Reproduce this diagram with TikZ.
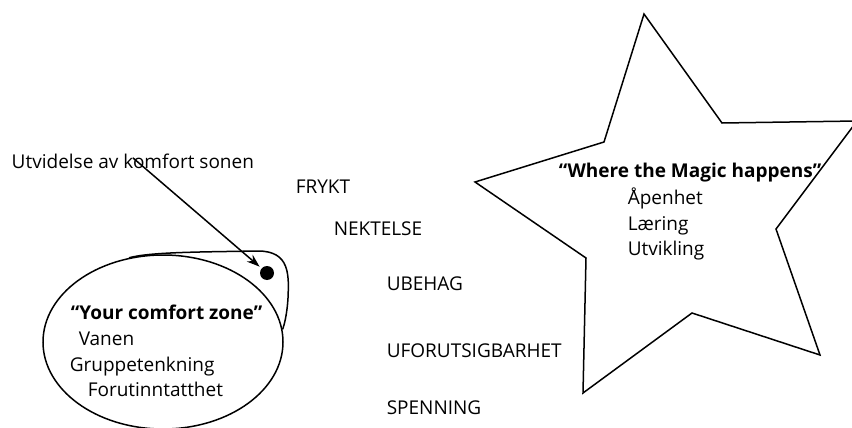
\documentclass[tikz,border=0pt]{standalone}
\usepackage{fontspec}
\setmainfont{Open Sans}
\usetikzlibrary{arrows.meta,positioning,shapes.geometric}

\tikzset{
  word/.style={anchor=base west,inner sep=0pt,font=\fontsize{19}{22}\selectfont},
  headline/.style={word,font=\fontsize{19}{22}\selectfont\bfseries},
}

\begin{document}
\begin{tikzpicture}[x=1pt,y=-1pt,line width=1.5pt]
\useasboundingbox (0,0) rectangle (852,428);

% the comfort zone
\node[draw,ellipse,minimum width=240pt,minimum height=174pt,inner sep=0pt] (zone) at (163,342) {};
\draw (zone.112) .. controls (150,252) and (200,252) .. (258,251)
      .. controls (290,251) and (289,275) .. (288,298)
      .. controls (287,315) and (284,326) .. (zone.6);
\node[circle,fill,inner sep=0pt,minimum size=14pt] (dot) at (267,273) {};

\node[headline] (zonetitle) at (70,319) {“Your comfort zone”};
\node[word] (vanen) at (78,345) {Vanen};
\node[word] (gruppe) at (69,371) {Gruppetenkning};
\node[word] (forut) at (87,396) {Forutinntatthet};

% label with arrow
\node[word] (utv) at (11,168) {Utvidelse av komfort sonen};
\draw[-{Stealth[length=13pt,width=9pt]},shorten >=2pt] ([yshift=3pt]utv.center) -- (dot);

% the steps in between
\node[word] (frykt) at (295,193) {FRYKT};
\node[word] (nektelse) at (333,235) {NEKTELSE};
\node[word] (ubehag) at (386,290) {UBEHAG};
\node[word] (uforut) at (386,357) {UFORUTSIGBARHET};
\node[word] (spenning) at (386,414) {SPENNING};

% the magic star
\draw (644,14) -- (722,123) -- (857,121) -- (776,229) -- (820,355) -- (692,313)
      -- (583,393) -- (586,258) -- (475,182) -- (604,142) -- cycle;

\node[headline] (magic) at (558,177) {“Where the Magic happens”};
\node[word] (aapen) at (627,204) {Åpenhet};
\node[word] (laering) at (627,230) {Læring};
\node[word] (utvikling) at (627,255) {Utvikling};
\end{tikzpicture}
\end{document}
